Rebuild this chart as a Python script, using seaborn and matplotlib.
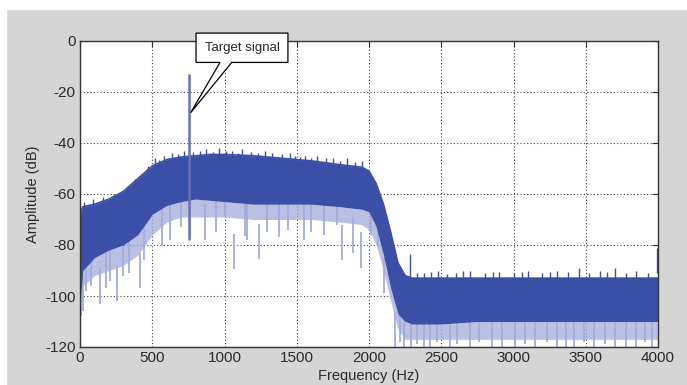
import numpy as np
import pandas as pd
import seaborn as sns
import matplotlib.pyplot as plt
from matplotlib.patches import Polygon, Rectangle

# spectrum: envelope of the noise band (Hz, dB)
freq = [0, 20, 100, 200, 300, 400, 500, 600, 700, 800, 900, 1000, 1200, 1400,
        1600, 1800, 1950, 2000, 2050, 2100, 2150, 2200, 2250, 2300, 2500, 2750,
        3000, 3250, 3500, 3750, 4000]
upper = [-68, -65, -64, -62, -59, -54, -49, -46.5, -45.5, -45, -44.5, -44.5, -45,
         -46, -47, -48.5, -49.5, -51, -56, -64, -75, -87, -92, -93, -93, -93,
         -93, -93, -93, -93, -93]
core_low = [-102, -90, -85, -82, -80, -76, -68, -64.5, -63, -62, -62.5, -63, -64,
            -64, -64, -65, -66, -67, -73, -84, -97, -107, -110, -111, -111, -110,
            -110, -110, -110, -110, -110]
light_low = [-106, -96, -92, -90, -88, -84, -76, -71, -69, -69, -69, -69, -70,
             -70, -70, -71, -72, -74, -80, -90, -102, -113, -117, -117, -117, -117,
             -117, -117, -117, -117, -117]

# deep single-bin dips below the band (light lines)
dip_freq = [10, 21, 40, 75, 141, 180, 210, 259, 300, 340, 414, 440, 565, 623,
            700, 762, 866, 940, 1000, 1069, 1139, 1155, 1236, 1294, 1375, 1440,
            1549, 1600, 1688, 1780, 1815, 1891, 1942, 2012, 2060, 2104, 2180,
            2215, 2240, 2290, 2330, 2380, 2420, 2470, 2560, 2610, 2700, 2760,
            2850, 2920, 3010, 3080, 3150, 3230, 3300, 3360, 3420, 3490, 3560,
            3630, 3700, 3780, 3850, 3910, 3960]
dip_db = [-108, -106, -98, -96, -103, -97, -94, -102, -92, -91, -97, -86, -80,
          -78, -73, -77, -78, -75, -69, -89.5, -76.5, -78, -85.6, -75, -77, -74,
          -78, -75, -76, -72, -86, -83, -89, -76, -80, -99, -120, -118, -120,
          -120, -119, -120, -120, -118, -120, -119, -120, -118, -120, -120, -120,
          -119, -120, -118, -120, -120, -120, -118, -120, -119, -120, -120, -120,
          -118, -120]

# spikes poking above the band
spike_freq = [30, 90, 160, 240, 330, 380, 420, 470, 520, 550, 580, 640, 680, 720,
              780, 830, 870, 920, 960, 1010, 1050, 1090, 1120, 1180, 1230, 1280,
              1330, 1400, 1450, 1490, 1520, 1560, 1600, 1640, 1700, 1750, 1800,
              1850, 1900, 1950, 2285, 2330, 2380, 2430, 2480, 2540, 2600, 2650,
              2700, 2800, 2860, 2900, 3000, 3060, 3100, 3200, 3250, 3300, 3380,
              3450, 3520, 3600, 3650, 3700, 3780, 3850, 3930, 3995]
spike_db = [-63, -62, -61, -60, -57, -54, -52, -49, -46, -46.5, -45, -44, -44.5,
            -43, -43.5, -43, -42.5, -43.5, -42, -43, -43, -44, -42.5, -43.5, -44,
            -43, -44, -44.5, -44, -45, -45.5, -45, -46, -45, -46, -46, -47, -46,
            -47.5, -47, -83.6, -91, -91, -90.5, -90, -91.5, -91, -90, -90, -91,
            -90.5, -90.5, -91, -90.5, -90, -91, -90.5, -90, -90.5, -89, -91, -90,
            -90.5, -89, -91, -90, -91, -81]

target_freq = 755
target_db = -13

df = pd.DataFrame({"freq": freq, "upper": upper, "core_low": core_low,
                   "light_low": light_low})

sns.set_style("white")
plt.rcParams["font.family"] = ["Liberation Sans", "DejaVu Sans"]
plt.rcParams["axes.unicode_minus"] = False

dark = "#3c4fa6"
light = "#a3abdb"

fig = plt.figure(figsize=(6.87, 3.85), dpi=100, facecolor="#d5d5d5")
fig.patches.append(Rectangle((0, 0.977), 1, 0.023, transform=fig.transFigure,
                             color="white", zorder=0))
fig.patches.append(Rectangle((0, 0), 0.009, 1, transform=fig.transFigure,
                             color="white", zorder=0))
ax = fig.add_axes([80 / 687, 38 / 385, 578 / 687, 306 / 385])
ax.set_facecolor("white")

ax.fill_between(df["freq"], df["core_low"], df["light_low"], color=light,
                alpha=0.75, linewidth=0, zorder=2)
ax.vlines(dip_freq, [d + 14 for d in dip_db], dip_db, color=light,
          linewidth=1.3, zorder=2)
ax.fill_between(df["freq"], df["upper"], df["core_low"], color=dark,
                linewidth=0, zorder=3)
sns.lineplot(data=df, x="freq", y="upper", color=dark, linewidth=1.2, ax=ax,
             zorder=3)
ax.vlines(spike_freq, spike_db, [d - 10 for d in spike_db], color=dark,
          linewidth=1.0, zorder=3)
ax.vlines([target_freq], -78, target_db, color="#6b70b8", linewidth=1.8, zorder=4)

ax.set_xlim(0, 4000)
ax.set_ylim(-120, 0)
ax.set_xticks(range(0, 4001, 500))
ax.set_yticks(range(-120, 1, 20))
ax.grid(True, color="#444444", linestyle=(0, (1, 2)), linewidth=0.8)
ax.set_axisbelow(True)
for s in ax.spines.values():
    s.set_color("#333333")
    s.set_linewidth(1.0)
    s.set_zorder(5)
ax.tick_params(direction="in", length=4, top=True, right=True, labelsize=11,
               colors="#2a2a2a", pad=3)
ax.set_xlabel("Frequency (Hz)", fontsize=10.5, labelpad=3, color="#2a2a2a")
ax.set_ylabel("Amplitude (dB)", fontsize=10.5, labelpad=4, color="#2a2a2a")

# callout box
callout = Polygon([(803, 3.1), (1439, 3.1), (1439, -8.4), (1050, -8.4),
                   (766, -28.1), (969, -8.4), (803, -8.4)], closed=True,
                  facecolor="white", edgecolor="black", linewidth=0.9,
                  clip_on=False, zorder=6)
ax.add_patch(callout)
ax.text(1121, -2.6, "Target signal", ha="center", va="center", fontsize=9.5,
        zorder=7, clip_on=False)

fig.savefig("out.png", dpi=100, facecolor=fig.get_facecolor())
